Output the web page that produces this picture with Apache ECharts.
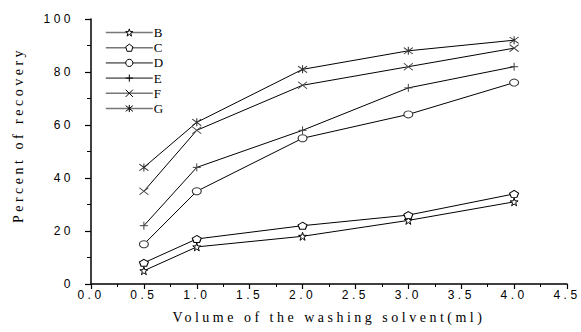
<!DOCTYPE html>
<html>
<head>
<meta charset="utf-8">
<script src="https://cdn.jsdelivr.net/npm/echarts@6/dist/echarts.min.js"></script>
<style>
  html, body { margin: 0; padding: 0; background: #fff; }
  #chart { width: 581px; height: 332px; }
  /* the original figure has widely tracked lettering */
  #chart svg text { letter-spacing: 3.5px; }
</style>
</head>
<body>
<div id="chart"></div>
<script>
// washing volume (ml)
var volumes = [0.5, 1.0, 2.0, 3.0, 4.0];
var seriesNames = ["B", "C", "D", "E", "F", "G"];
var valuesB = [5, 14, 18, 24, 31];
var valuesC = [8, 17, 22, 26, 34];
var valuesD = [15, 35, 55, 64, 76];
var valuesE = [22, 44, 58, 74, 82];
var valuesF = [35, 58, 75, 82, 89];
var valuesG = [44, 61, 81, 88, 92];
var allValues = [valuesB, valuesC, valuesD, valuesE, valuesF, valuesG];

// marker shapes
var symbols = [
    "path://M5,0 L6.2,3.6 L10,3.6 L6.9,5.8 L8.1,9.5 L5,7.3 L1.9,9.5 L3.1,5.8 L0,3.6 L3.8,3.6 Z",
    "path://M5,0 L10,3.8 L8.1,10 L1.9,10 L0,3.8 Z",
    "circle",
    "path://M0,5 L10,5 M5,0 L5,10",
    "path://M0,0 L10,10 M10,0 L0,10",
    "path://M0,1 L10,9 M10,1 L0,9 M5,0 L5,10"
];
var sizes = [[8, 8], [9, 7], [9, 7], [8, 8], [9, 7], [9, 8]];
var markColors = ["#000", "#000", "#333", "#444", "#444", "#333"];

var chart = echarts.init(document.getElementById("chart"), null, { renderer: "svg" });

var series = seriesNames.map(function (name, i) {
    return {
        name: name,
        type: "line",
        data: volumes.map(function (v, j) { return [v, allValues[i][j]]; }),
        symbol: symbols[i],
        symbolSize: sizes[i],
        showAllSymbol: true,
        lineStyle: { color: "#000", width: 1 },
        itemStyle: { color: "#fff", borderColor: markColors[i], borderWidth: 1 },
        emphasis: { disabled: true },
        z: 2
    };
});

var option = {
    backgroundColor: "#fff",
    animation: false,
    grid: { left: 91, right: 14, top: 19, bottom: 48 },
    legend: {
        orient: "vertical",
        left: 100,
        top: 21,
        itemWidth: 47,
        itemHeight: 9,
        itemGap: 2.2,
        data: seriesNames,
        textStyle: { fontFamily: "Liberation Serif", fontSize: 13, color: "#000", padding: [0, 0, 0, -4] },
        itemStyle: { color: "#fff", borderColor: "#000", borderWidth: 1 },
        lineStyle: { color: "#777", width: 1.6 }
    },
    xAxis: {
        type: "value",
        min: 0,
        max: 4.5,
        interval: 0.5,
        name: "Volume of the washing solvent(ml)",
        nameLocation: "middle",
        nameGap: 26,
        nameTextStyle: { fontFamily: "Liberation Serif", fontSize: 14, color: "#000" },
        axisLine: { lineStyle: { color: "#000", width: 1.5 } },
        axisTick: { length: 5, lineStyle: { color: "#000", width: 1.2 } },
        minorTick: { show: true, splitNumber: 2, length: 3, lineStyle: { color: "#000" } },
        splitLine: { show: false },
        axisLabel: {
            fontFamily: "Liberation Sans",
            fontSize: 12,
            color: "#000",
            margin: 5,
            formatter: function (v) { return v.toFixed(1); }
        }
    },
    yAxis: {
        type: "value",
        min: 0,
        max: 100,
        interval: 20,
        name: "Percent of recovery",
        nameLocation: "middle",
        nameGap: 66,
        nameTextStyle: { fontFamily: "Liberation Serif", fontSize: 14, color: "#000", padding: [0, 0, 0, 33] },
        axisLine: { show: true, lineStyle: { color: "#000", width: 1.5 } },
        axisTick: { show: true, length: 6, lineStyle: { color: "#000", width: 1.2 } },
        minorTick: { show: true, splitNumber: 2, length: 4, lineStyle: { color: "#000" } },
        splitLine: { show: false },
        axisLabel: {
            fontFamily: "Liberation Sans",
            fontSize: 12,
            color: "#000",
            margin: 17
        }
    },
    series: series
};

chart.setOption(option);
window.addEventListener("resize", function () {
    chart.resize();
});
</script>
</body>
</html>
